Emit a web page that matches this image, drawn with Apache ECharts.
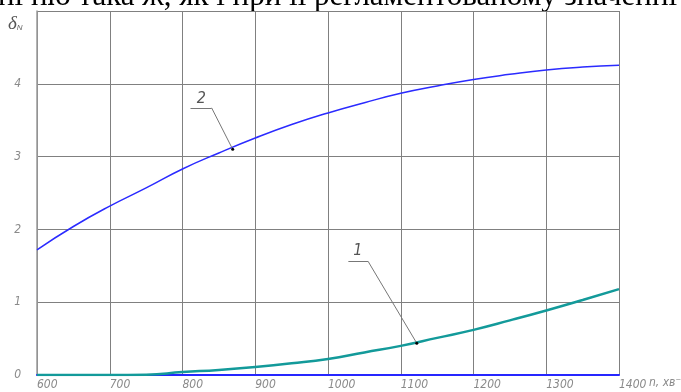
<!DOCTYPE html>
<html>
<head>
<meta charset="utf-8">
<script src="https://cdn.jsdelivr.net/npm/echarts@6/dist/echarts.min.js"></script>
<style>
  html, body { margin: 0; padding: 0; background: #fff; }
  #chart { width: 681px; height: 392px; }
</style>
</head>
<body>
<div id="chart"></div>
<script>
// Rotation speed n, min^-1
const speeds = [600, 650, 700, 750, 800, 850, 900, 950, 1000, 1050, 1100, 1150, 1200, 1250, 1300, 1350, 1400];
// Curve 1: deviation δN
const curve1 = [0, 0, 0, 0.005, 0.04, 0.07, 0.11, 0.16, 0.22, 0.31, 0.40, 0.51, 0.62, 0.75, 0.886, 1.03, 1.18];
// Curve 2: deviation δN
const curve2 = [1.72, 2.04, 2.32, 2.57, 2.83, 3.05, 3.255, 3.44, 3.60, 3.74, 3.87, 3.97, 4.06, 4.13, 4.19, 4.23, 4.255];
// Tick labels
const xTicks = ['600', '700', '800', '900', '1000', '1100', '1200', '1300', '1400'];
const yTicks = ['0', '1', '2', '3', '4', ''];

// Leader callouts: anchor on curve, elbow, shelf end, label position (data units)
const callout2 = { label: '2', anchor: [869, 3.10], elbow: [840, 3.67], shelf: [811, 3.67], text: [826, 3.80] };
const callout1 = { label: '1', anchor: [1122, 0.437], elbow: [1055, 1.563], shelf: [1028, 1.563], text: [1041, 1.70] };

const draftFont = "'Liberation Sans Narrow','DejaVu Sans Condensed','DejaVu Sans',sans-serif";

const chart = echarts.init(document.getElementById('chart'), null, { renderer: 'canvas' });

function leader(c) {
  return [
    [{ coord: c.anchor }, { coord: c.elbow }],
    [{ coord: c.elbow }, { coord: c.shelf }]
  ];
}

chart.setOption({
  animation: false,
  backgroundColor: '#ffffff',
  grid: { left: 37, right: 62, top: 11, bottom: 17, containLabel: false },
  xAxis: {
    type: 'value', min: 600, max: 1400, interval: 100,
    axisLine: { show: true, onZero: false, lineStyle: { color: '#2626ff', width: 2 } },
    axisTick: { show: false },
    splitLine: { show: true, lineStyle: { color: '#808080', width: 1 } },
    axisLabel: {
      margin: 4, align: 'left', color: '#8a8a8a', fontStyle: 'italic',
      fontFamily: draftFont, fontSize: 12,
      formatter: (v) => xTicks[Math.round((v - 600) / 100)]
    }
  },
  yAxis: {
    type: 'value', min: 0, max: 5, interval: 1,
    axisLine: { show: true, lineStyle: { color: '#9a9a9a', width: 1.5 } },
    axisTick: { show: false },
    splitLine: { show: true, lineStyle: { color: '#808080', width: 1 } },
    axisLabel: {
      margin: 16, color: '#8a8a8a', fontStyle: 'italic',
      fontFamily: draftFont, fontSize: 12,
      formatter: (v) => yTicks[Math.round(v)]
    }
  },
  series: [
    {
      name: '1', type: 'line', smooth: true, showSymbol: false,
      data: speeds.map((n, i) => [n, curve1[i]]),
      lineStyle: { color: '#139a9a', width: 2.5 },
      z: 3,
      markLine: {
        silent: true, symbol: 'none',
        lineStyle: { color: '#777777', width: 1, type: 'solid' },
        label: { show: false },
        data: leader(callout1)
      },
      markPoint: {
        silent: true,
        data: [
          { coord: callout1.anchor, symbol: 'circle', symbolSize: 3, itemStyle: { color: '#000' }, label: { show: false } },
          { coord: callout1.text, symbol: 'circle', symbolSize: 0,
            label: { show: true, formatter: callout1.label, color: '#555', fontStyle: 'italic', fontSize: 16, fontFamily: draftFont } }
        ]
      }
    },
    {
      name: '2', type: 'line', smooth: true, showSymbol: false,
      data: speeds.map((n, i) => [n, curve2[i]]),
      lineStyle: { color: '#2b2bff', width: 1.5 },
      z: 3,
      markLine: {
        silent: true, symbol: 'none',
        lineStyle: { color: '#777777', width: 1, type: 'solid' },
        label: { show: false },
        data: leader(callout2)
      },
      markPoint: {
        silent: true,
        data: [
          { coord: callout2.anchor, symbol: 'circle', symbolSize: 3, itemStyle: { color: '#000' }, label: { show: false } },
          { coord: callout2.text, symbol: 'circle', symbolSize: 0,
            label: { show: true, formatter: callout2.label, color: '#555', fontStyle: 'italic', fontSize: 16, fontFamily: draftFont } }
        ]
      }
    }
  ],
  graphic: [
    {
      type: 'text', left: -2, top: -19,
      style: {
        text: 'ні ню така ж, як і при її регламентованому значенні',
        font: "31px 'Liberation Serif', 'DejaVu Serif', serif",
        fill: '#000'
      }
    },
    {
      type: 'text', left: 8, top: 14,
      style: {
        rich: {
          d: { font: "italic 19px 'Liberation Serif', serif", fill: '#555' },
          s: { font: "italic 8px 'Liberation Sans Narrow', sans-serif", fill: '#666', padding: [9, 0, 0, 0] }
        },
        text: '{d|δ}{s|N}'
      }
    },
    {
      type: 'text', left: 649, top: 377,
      style: {
        text: 'n, хв⁻¹',
        font: "italic 12px " + draftFont,
        fill: '#8a8a8a'
      }
    }
  ]
});
</script>
</body>
</html>
